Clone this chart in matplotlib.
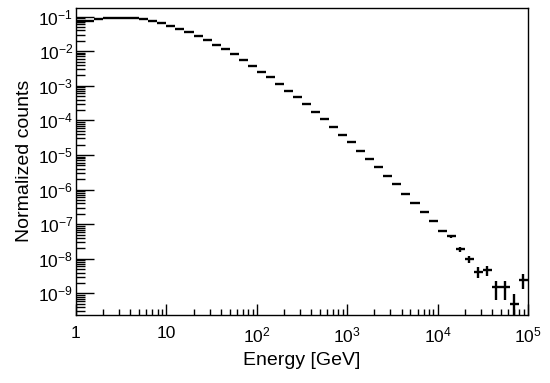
import numpy as np
import matplotlib
matplotlib.use("Agg")
import matplotlib.pyplot as plt
from matplotlib.ticker import FixedLocator, FixedFormatter, NullFormatter

plt.rcParams['font.family'] = ['Liberation Sans', 'DejaVu Sans']
plt.rcParams['mathtext.fontset'] = 'custom'
plt.rcParams['mathtext.rm'] = 'Liberation Sans'
plt.rcParams['mathtext.it'] = 'Liberation Sans:italic'
plt.rcParams['mathtext.bf'] = 'Liberation Sans:bold'

# 50 log-spaced bins from 1 GeV to 1e5 GeV
bin_edges_log10 = np.linspace(0, 5, 51)

# log10 of normalized counts per bin
log10_counts = [
    -1.145, -1.116, -1.081, -1.052, -1.038, -1.038, -1.052, -1.081, -1.130, -1.197,
    -1.275, -1.361, -1.448, -1.564, -1.688, -1.815, -1.948, -2.092, -2.249, -2.422,
    -2.595, -2.757, -2.951, -3.144, -3.335, -3.538, -3.751, -3.971, -4.194, -4.416,
    -4.636, -4.879, -5.118, -5.358, -5.610, -5.841, -6.133, -6.393, -6.636, -6.905,
    -7.194, -7.347, -7.728, -8.009, -8.376, -8.327, -8.827, -8.827, -9.309, -8.616,
]
total_events = 2.04e9  # normalization (one event = ~4.9e-10)

edges = 10.0 ** bin_edges_log10
values = 10.0 ** np.array(log10_counts)
centers = np.sqrt(edges[:-1] * edges[1:])
counts = np.round(values * total_events)
errs = np.sqrt(counts) / total_events

x_ticks = [1, 10, 1e2, 1e3, 1e4, 1e5]
x_labels = ['1', '10', '$10^{2}$', '$10^{3}$', '$10^{4}$', '$10^{5}$']
y_ticks = [1e-9, 1e-8, 1e-7, 1e-6, 1e-5, 1e-4, 1e-3, 1e-2, 1e-1]
y_labels = ['$10^{-9}$', '$10^{-8}$', '$10^{-7}$', '$10^{-6}$', '$10^{-5}$',
            '$10^{-4}$', '$10^{-3}$', '$10^{-2}$', '$10^{-1}$']

fig = plt.figure(figsize=(5.5, 3.83), dpi=100)
ax = fig.add_axes([76/550, 1 - 314.5/383, (528-76)/550, (314.5-8)/383])
ax.set_xscale('log')
ax.set_yscale('log', nonpositive='clip')

lw = 1.7
ax.hlines(values, edges[:-1], edges[1:], color='black', lw=lw)
lower = np.clip(values - errs, 1e-14, None)
upper = values + errs
ax.vlines(centers, lower, upper, color='black', lw=lw)

ax.set_xlim(1, 1e5)
ax.set_ylim(10 ** -9.61, 10 ** -0.754)

ax.xaxis.set_major_locator(FixedLocator(x_ticks))
ax.xaxis.set_major_formatter(FixedFormatter(x_labels))
xminor = [m * 10 ** d for d in range(0, 5) for m in range(2, 10)]
ax.xaxis.set_minor_locator(FixedLocator(xminor))
ax.xaxis.set_minor_formatter(NullFormatter())

ax.yaxis.set_major_locator(FixedLocator(y_ticks))
ax.yaxis.set_major_formatter(FixedFormatter(y_labels))
yminor = [m * 10.0 ** d for d in range(-10, 0) for m in range(2, 10)]
ax.yaxis.set_minor_locator(FixedLocator(yminor))
ax.yaxis.set_minor_formatter(NullFormatter())

ax.tick_params(axis='x', which='major', direction='in', length=8, width=1, labelsize=12.5, pad=8)
ax.tick_params(axis='x', which='minor', direction='in', length=4, width=1)
ax.tick_params(axis='y', which='major', direction='in', length=13, width=1, labelsize=12.5, pad=2)
ax.tick_params(axis='y', which='minor', direction='in', length=6.5, width=1)
ax.tick_params(top=False, right=False, which='both')

for s in ax.spines.values():
    s.set_linewidth(1.0)

ax.set_xlabel('Energy [GeV]', fontsize=14, labelpad=5)
ax.set_ylabel('Normalized counts', fontsize=14, labelpad=4)

fig.savefig('out.png', dpi=100)
